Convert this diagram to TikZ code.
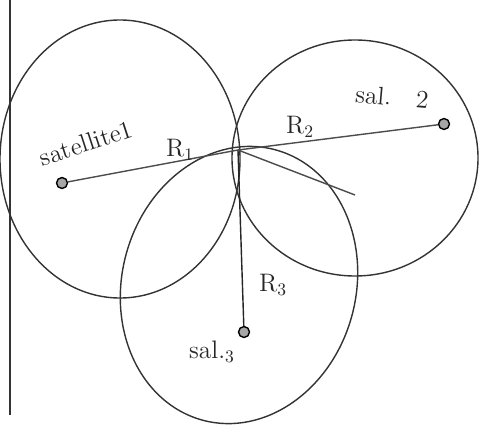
\documentclass[tikz,border=0pt]{standalone}
\usepackage{tikz}
\usetikzlibrary{positioning, calc}
\tikzset{
	orbit/.style={thick, draw=black!80}
}
\tikzset{
	satdot/.style={circle, draw=black, thick, fill=gray!70, inner sep=2.2pt}
}
\tikzset{
	handtext/.style={font=\Large, text=black!85}
}
\tikzset{
	radius line/.style={thick, draw=black!70}
}

\begin{document}
\begin{tikzpicture}[x=0.02cm, y=-0.02cm]

			\useasboundingbox (0,0) rectangle (493,439);

			% margin line
			\coordinate (mtop) at (10,0);
			\coordinate (mbot) at (10,415);
			\draw[thick, black!80] (mtop) -- (mbot);

			\begin{scope}
				\draw[orbit] (120,159) ellipse [x radius=120, y radius=139];
				\draw[orbit] (355,158) ellipse [x radius=123, y radius=118];
				\draw[orbit, rotate around={-15:(239,285)}] (239,285) ellipse [x radius=117, y radius=140];
			\end{scope}

			\begin{scope}
				\coordinate (meet) at (238,150);
				\coordinate (tail) at (355,195);

				\node[satdot] (sA) at (62,183) {};
				\node[satdot] (sB) at (444,124) {};
				\node[satdot] (sC) at (244,332) {};

				\draw[radius line] (sA) -- (meet);
				\draw[radius line] (sB) -- (meet);
				\draw[thick, black!85] (meet) -- (sC);
				\draw[radius line] (meet) -- (tail);
			\end{scope}

			\node[handtext, rotate=18] (lA) at (86,143) {satellite1};
			\node[handtext] (rA) at (180,150) {R$_1$};
			\node[handtext] (rB) at (300,127) {R$_2$};
			\node[handtext, rotate=-5] (lB) at (392,97) {sal.\ \ \ 2};
			\node[handtext] (rC) at (273,285) {R$_3$};
			\node[handtext] (lC) at (212,352) {sal.$_3$};

		\end{tikzpicture}
\end{document}
